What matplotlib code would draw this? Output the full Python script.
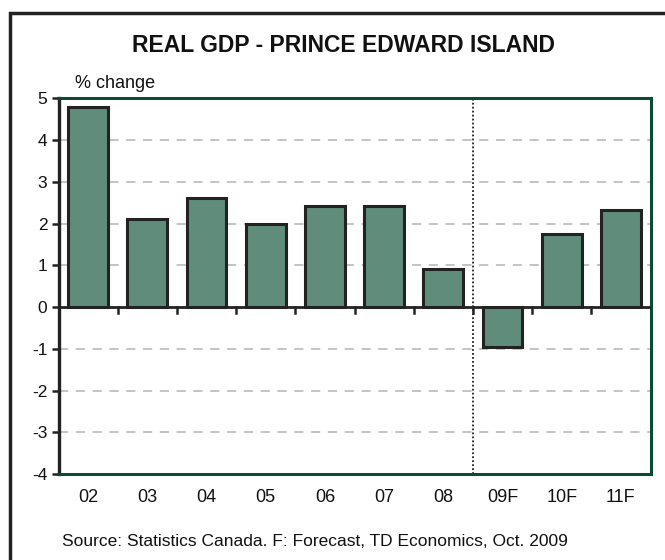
import matplotlib.pyplot as plt
from matplotlib.patches import Rectangle

plt.rcParams['font.family'] = ['Liberation Sans', 'DejaVu Sans']

# annual real GDP growth, % change
years = ["02", "03", "04", "05", "06", "07", "08", "09F", "10F", "11F"]
growth = [4.8, 2.1, 2.6, 2.0, 2.43, 2.41, 0.92, -0.95, 1.74, 2.33]

bar_color = "#5f8c7b"
frame_green = "#0d4a36"

fig = plt.figure(figsize=(6.65, 5.6), dpi=100)
ax = fig.add_axes([58.5 / 665, 1 - 474 / 560, 592 / 665, 375.7 / 560])

x = list(range(len(years)))
ax.bar(x, growth, width=0.67, color=bar_color, edgecolor="#222222",
       linewidth=2.2, zorder=3)

ax.set_xlim(-0.5, len(years) - 0.5)
ax.set_ylim(-4, 5)
ax.set_yticks(range(-4, 6))
ax.set_yticklabels([str(v) for v in range(-4, 6)], fontsize=12.5)
ax.set_xticks([])

# dashed grid for the inner ticks
for v in range(-3, 5):
    if v != 0:
        ax.axhline(v, color="#b4b4b4", linestyle=(0, (6, 5)), linewidth=1.1, zorder=1)

# zero line with category divider ticks
ax.axhline(0, color="#222222", linewidth=2, zorder=4)
for i in range(1, len(years)):
    ax.plot([i - 0.5, i - 0.5], [0, -0.14], color="#222222", linewidth=1.8,
            zorder=4, clip_on=False)

# split between actuals and forecasts
ax.axvline(6.5, color="#222222", linestyle=(0, (1, 1.2)), linewidth=1.3, zorder=2)

for side in ["top", "right", "bottom"]:
    ax.spines[side].set_color(frame_green)
    ax.spines[side].set_linewidth(2.2)
ax.spines["left"].set_color("#222222")
ax.spines["left"].set_linewidth(2.4)
ax.tick_params(axis="y", direction="out", length=5, width=1.8, color="#222222",
               pad=3, labelcolor="#111111")

for i, lbl in enumerate(years):
    ax.text(i, -4.57, lbl, ha="center", va="center", fontsize=13, color="#111111")

fig.text(343 / 665, 1 - 45 / 560, "REAL GDP - PRINCE EDWARD ISLAND", ha="center",
         va="center", fontsize=16.5, fontweight="bold", color="#111111")
fig.text(75 / 665, 1 - 84 / 560, "% change", ha="left", va="center",
         fontsize=13, color="#111111")
fig.text(315 / 665, 1 - 541 / 560,
         "Source: Statistics Canada. F: Forecast, TD Economics, Oct. 2009",
         ha="center", va="center", fontsize=12.5, color="#111111")

# outer frame, open toward the right and bottom
fig.patches.append(Rectangle((10 / 665, -0.1), 1.2, 1 - 13 / 560 + 0.1,
                             transform=fig.transFigure, fill=False,
                             edgecolor="#222222", linewidth=2.5))

fig.savefig("out.png", dpi=100)
